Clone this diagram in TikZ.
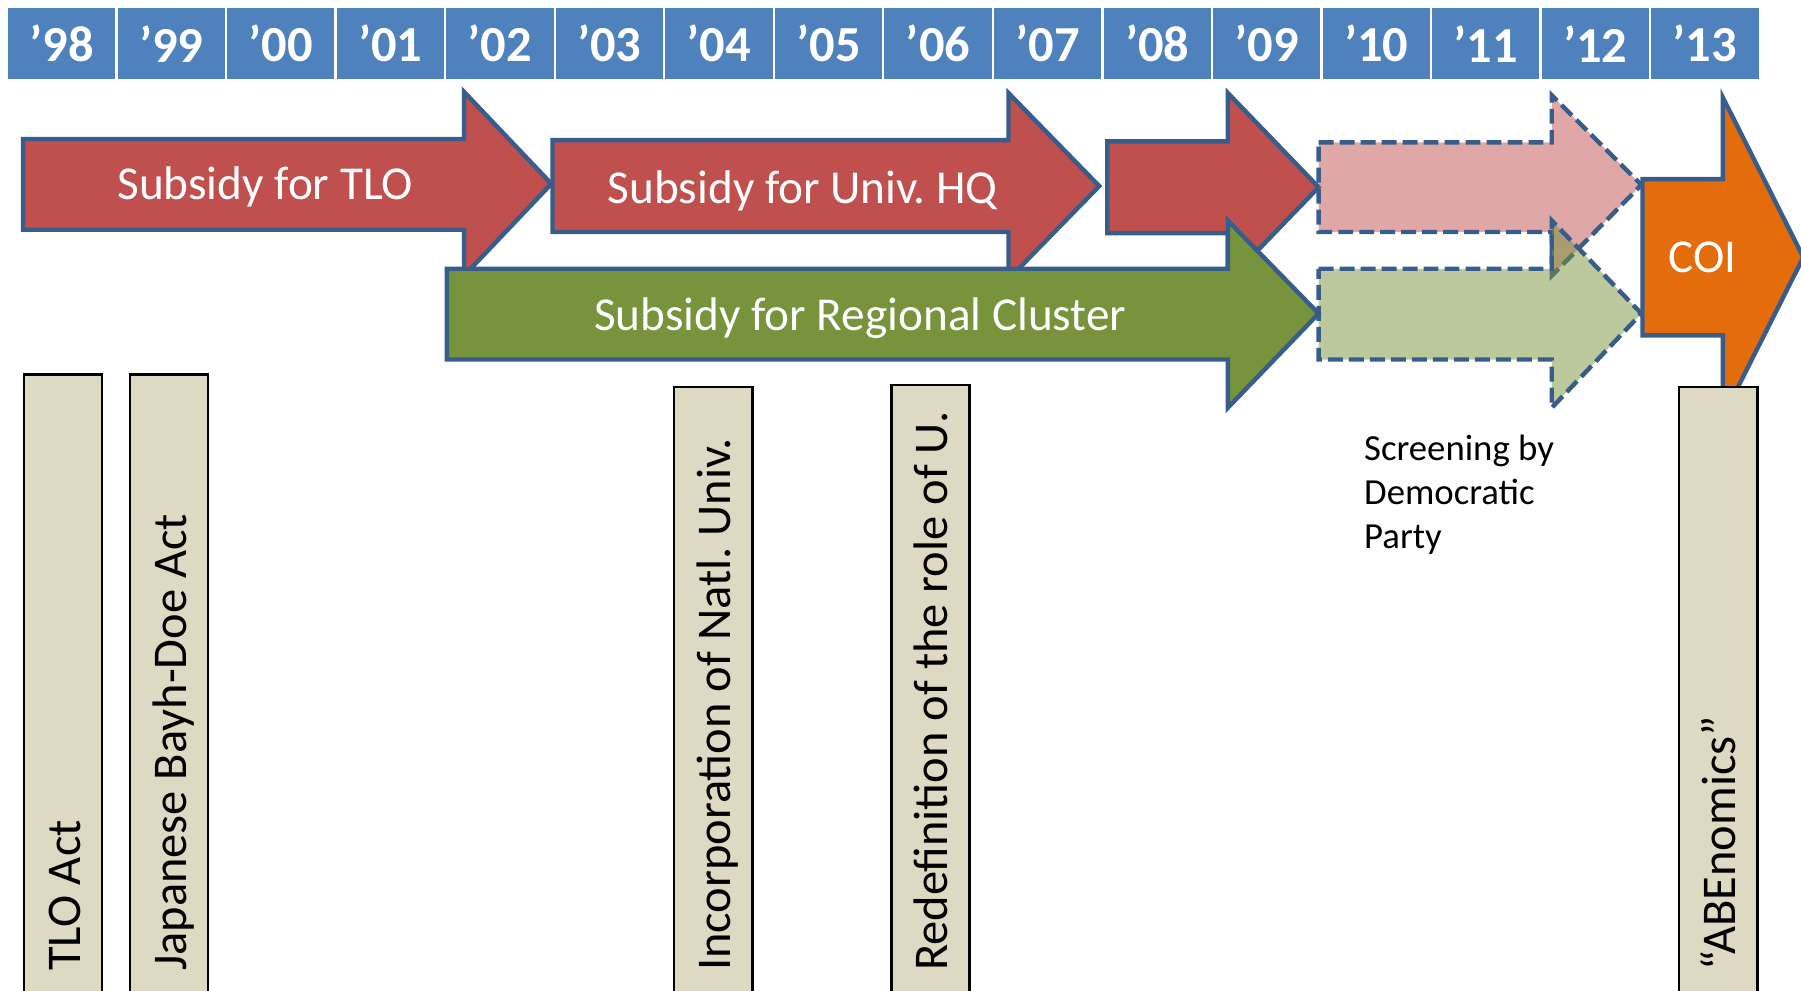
\documentclass[tikz,border=0pt]{standalone}
\usepackage{fontspec}
\setmainfont{Carlito}
\definecolor{hdrblue}{HTML}{4F81BD}
\definecolor{edgeblue}{HTML}{385D8A}
\definecolor{subred}{HTML}{C0504D}
\definecolor{subgreen}{HTML}{77933C}
\definecolor{coiorange}{HTML}{E46C0A}
\definecolor{eventtan}{HTML}{DDD9C3}

\begin{document}
\frenchspacing
\begin{tikzpicture}[
      x=0.1mm, y=-0.1mm,
      year/.style={fill=hdrblue, text=white, font=\fontsize{12.5}{15}\selectfont\bfseries,
        minimum width=9.34mm, minimum height=6.2mm, inner sep=0pt},
      band/.style={draw=edgeblue, line width=1.1pt, line join=miter},
      planned/.style={band, dash pattern=on 3.7pt off 1.5pt, fill opacity=0.5},
      bandtext/.style={text=white, font=\fontsize{11.7}{14}\selectfont, inner sep=0pt},
      event/.style={draw=black, line width=0.6pt, fill=eventtan},
      eventtext/.style={rotate=90, anchor=base west, inner sep=0pt, font=\fontsize{12}{14}\selectfont}
    ]
    \useasboundingbox (0,0) rectangle (1568,862);
    \node[year] (y98) at (53.7,38) {’98};
    \node[year] (y99) at (149.1,38) {’99};
    \node[year] (y00) at (244.5,38) {’00};
    \node[year] (y01) at (339.8,38) {’01};
    \node[year] (y02) at (435.2,38) {’02};
    \node[year] (y03) at (530.6,38) {’03};
    \node[year] (y04) at (626.0,38) {’04};
    \node[year] (y05) at (721.3,38) {’05};
    \node[year] (y06) at (816.7,38) {’06};
    \node[year] (y07) at (912.1,38) {’07};
    \node[year] (y08) at (1007.5,38) {’08};
    \node[year] (y09) at (1102.8,38) {’09};
    \node[year] (y10) at (1198.2,38) {’10};
    \node[year] (y11) at (1293.6,38) {’11};
    \node[year] (y12) at (1389.0,38) {’12};
    \node[year] (y13) at (1484.3,38) {’13};
    \draw[band, fill=subred] (20,121) -- (404,121) -- (404,80) -- (480,160) -- (404,240) -- (404,200) -- (20,200) -- cycle;
    \draw[band, fill=subred] (481,122) -- (878,122) -- (878,81) -- (957,162) -- (878,243) -- (878,202) -- (481,202) -- cycle;
    \draw[band, fill=subred] (964,123) -- (1069,123) -- (1069,81) -- (1148,163) -- (1069,245) -- (1069,203) -- (964,203) -- cycle;
    \draw[band, fill=subgreen] (389,234) -- (1069,234) -- (1069,192) -- (1148,273) -- (1069,355) -- (1069,313) -- (389,313) -- cycle;
    \draw[planned, fill=subred] (1148,124) -- (1351,124) -- (1351,83) -- (1429,161) -- (1351,240) -- (1351,202) -- (1148,202) -- cycle;
    \draw[planned, fill=subgreen] (1148,234) -- (1351,234) -- (1351,192) -- (1429,273) -- (1351,355) -- (1351,313) -- (1148,313) -- cycle;
    \draw[band, fill=coiorange] (1430,156) -- (1500,156) -- (1500,85) -- (1570,224) -- (1500,363) -- (1500,292) -- (1430,292) -- cycle;
    \node[bandtext] (tlo) at (231,163) {Subsidy for TLO};
    \node[bandtext] (univhq) at (699,166) {Subsidy for Univ. HQ};
    \node[bandtext] (cluster) at (749,277) {Subsidy for Regional Cluster};
    \node[bandtext] (coi) at (1482,224) {COI};
    \node[anchor=north west, inner sep=0pt, align=left, font=\fontsize{9.1}{10.9}\selectfont]
      (screening) at (1187,378) {Screening by\\Democratic\\Party};
    \draw[event] (21,326) rectangle (89,880);
    \draw[event] (113,326) rectangle (181,880);
    \draw[event] (587,337) rectangle (655,880);
    \draw[event] (776,335) rectangle (844,880);
    \draw[event] (1462,337) rectangle (1530,880);
    \node[eventtext] (tloact) at (70,846) {TLO Act};
    \node[eventtext] (bayhdole) at (162,846) {Japanese Bayh-Doe Act};
    \node[eventtext] (incorp) at (636,846) {Incorporation of Natl. Univ.};
    \node[eventtext] (redef) at (825,846) {Redefinition of the role of U.};
    \node[eventtext] (abe) at (1511,846) {“ABEnomics”};
  \end{tikzpicture}
\end{document}
